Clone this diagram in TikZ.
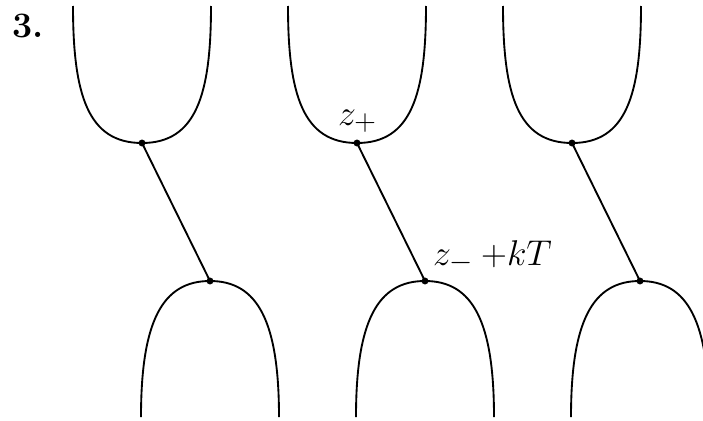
\documentclass[tikz,border=0pt]{standalone}
\usepackage{tikz}

\begin{document}
\begin{tikzpicture}[x=0.75pt,y=-0.75pt, line width=1.4pt,
  every node/.style={font=\fontsize{24.88}{30}\selectfont, inner sep=0pt,
    scale=1.08, transform shape},
  dot/.style={fill=black}]
  \clip (0,0) rectangle (703,421);
  \node[anchor=base west] (num) at (11,37) {\textbf{3.}};
  \foreach \k in {0,1,2} {
    \begin{scope}[shift={(\k*215,0)}]
      \coordinate (top\k) at (142,143);
      \coordinate (bot\k) at (210,281);
      % upper bowl
      \draw (73,6) .. controls (73,95) and (88,143) .. (top\k)
        .. controls (196,143) and (211,95) .. (211,6);
      % lower arch
      \draw (141,417) .. controls (141,322) and (162,281) .. (bot\k)
        .. controls (258,281) and (279,322) .. (279,417);
      \draw (top\k) -- (bot\k);
      \fill[dot] (top\k) circle (2.6pt);
      \fill[dot] (bot\k) circle (2.6pt);
    \end{scope}
  }
  \node[anchor=base west] (zplus) at (337,125) {$z_+$};
  \node[anchor=base west] (zminus) at (432,265) {$z_-\:{+}kT$};
\end{tikzpicture}
\end{document}
